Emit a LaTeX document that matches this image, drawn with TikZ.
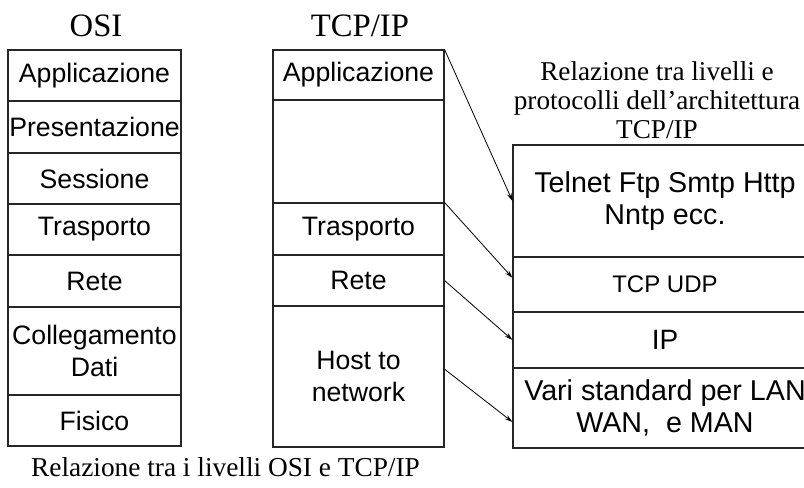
\documentclass[tikz,border=0pt]{standalone}
\usepackage{fontspec}
\setmainfont{Liberation Serif}
\newfontfamily\arialfont{Liberation Sans}
\usetikzlibrary{arrows.meta,positioning}
\tikzset{
  layer/.style={rectangle,draw=black!85,line width=0.8pt,inner sep=0pt,align=center,
    font=\arialfont\fontsize{20}{24}\selectfont},
  osilayer/.style={layer,minimum width=173*0.75pt},
  tcplayer/.style={layer,minimum width=171*0.75pt},
  protolayer/.style={layer,minimum width=304*0.75pt,font=\arialfont\fontsize{21.5}{23.5}\selectfont},
  coltitle/.style={anchor=base,font=\fontsize{24.5}{28}\selectfont},
  captext/.style={anchor=base,align=center,font=\fontsize{20.4}{21.75}\selectfont},
  maparrow/.style={-{Stealth[length=6pt,width=3.5pt]},line width=0.6pt,black},
}
\begin{document}
\begin{tikzpicture}[x=0.75pt,y=-0.75pt]
  \clip (0,0) rectangle (804,488);
  % OSI stack
  \node[coltitle] (tOsi) at (96,37) {OSI};
  \node[osilayer,minimum height=51*0.75pt] (nOApp) at (94.5,75.5) {Applicazione};
  \node[osilayer,minimum height=52*0.75pt] (nOPres) at (94.5,127) {Presentazione};
  \node[osilayer,minimum height=51*0.75pt] (nOSes) at (94.5,178.5) {Sessione};
  \node[osilayer,minimum height=51*0.75pt] (nOTra) at (94.5,229.5) {Trasporto};
  \node[osilayer,minimum height=52*0.75pt] (nORete) at (94.5,281) {Rete};
  \node[osilayer,minimum height=88*0.75pt] (nOCol) at (94.5,351) {Collegamento\\Dati};
  \node[osilayer,minimum height=51*0.75pt] (nOFis) at (94.5,420.5) {Fisico};
  % TCP/IP stack
  \node[coltitle] (tTcp) at (360,37) {TCP/IP};
  \node[tcplayer,minimum height=50*0.75pt] (nTApp) at (358.5,75) {Applicazione};
  \node[tcplayer,minimum height=103*0.75pt] (nTVuoto) at (358.5,151.5) {};
  \node[tcplayer,minimum height=52*0.75pt] (nTTra) at (358.5,229) {Trasporto};
  \node[tcplayer,minimum height=51*0.75pt] (nTRete) at (358.5,280.5) {Rete};
  \node[tcplayer,minimum height=141*0.75pt] (nTHost) at (358.5,376.5) {Host to\\network};
  % protocolli
  \node[captext] (tProto) at (657,139) {Relazione tra livelli e\\protocolli dell’architettura\\TCP/IP};
  \node[protolayer,minimum height=112*0.75pt] (nPApp) at (665,201) {Telnet Ftp Smtp Http\\Nntp ecc.};
  \node[protolayer,minimum height=55*0.75pt,font=\arialfont\fontsize{18}{20}\selectfont] (nPTcp) at (665,284.5) {TCP UDP};
  \node[protolayer,minimum height=56*0.75pt,font=\arialfont\fontsize{21}{23}\selectfont] (nPIp) at (665,340) {IP};
  \node[protolayer,minimum height=80*0.75pt] (nPLink) at (665,408) {Vari standard per LAN\\WAN,\ \ e MAN};
  \draw[maparrow] (nTApp.north east) -- (nPApp.west);
  \draw[maparrow] (nTTra.north east) -- ([yshift=5pt]nPTcp.west);
  \draw[maparrow] (nTRete.east) -- (nPIp.west);
  \draw[maparrow] ([yshift=5.5pt]nTHost.east) -- ([yshift=-10.5pt]nPLink.west);
  \node[captext,font=\fontsize{20.5}{24}\selectfont] (tCaption) at (225.5,477) {Relazione tra i livelli OSI e TCP/IP};
\end{tikzpicture}
\end{document}
